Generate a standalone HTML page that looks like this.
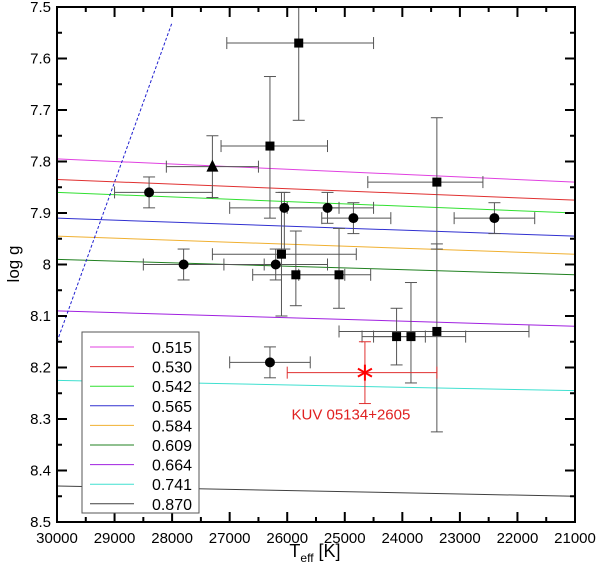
<!DOCTYPE html>
<html><head><meta charset="utf-8"><style>
body{margin:0;background:#fff}
svg{display:block;font-family:"Liberation Sans",sans-serif}
</style></head><body>
<svg id="chart" width="600" height="575" viewBox="0 0 600 575" xmlns="http://www.w3.org/2000/svg">
<g id="tracks"></g>
<g id="errs"></g>
<g id="marks"></g>
<g id="axes"></g>
<g id="legend"></g>
<text x="315" y="557" font-size="18" text-anchor="middle">T<tspan font-size="12" dy="5">eff</tspan><tspan dy="-5"> [K]</tspan></text>
<text transform="translate(19,264) rotate(-90)" font-size="17" text-anchor="middle">log g</text>
</svg>
<script>
const masses=["0.515","0.530","0.542","0.565","0.584","0.609","0.664","0.741","0.870"];
const trackColors=["#e040e0","#e03030","#30e030","#3030d0","#f0b030","#208020","#a020e0","#40e0d0","#404040"];
const trackStart=[7.795,7.835,7.86,7.91,7.945,7.99,8.09,8.225,8.43];
const trackEnd=[7.84,7.875,7.9,7.945,7.98,8.02,8.12,8.245,8.45];
const sqT=[25800,26300,23400,26100,25850,25100,24100,23850,23400];
const sqG=[7.57,7.77,7.84,7.98,8.02,8.02,8.14,8.14,8.13];
const sqTlo=[27050,27150,24600,27300,26600,25800,24700,24500,25100];
const sqThi=[24500,25300,22600,24800,25000,24550,23600,22900,21800];
const sqGlo=[7.50,7.635,7.715,7.86,7.935,7.93,8.085,8.035,7.96];
const sqGhi=[7.72,7.91,7.97,8.10,8.08,8.085,8.195,8.23,8.325];
const ciT=[28400,27800,26050,25300,24850,22400,26200,26300];
const ciG=[7.86,8.00,7.89,7.89,7.91,7.91,8.00,8.19];
const ciTlo=[29000,28500,27000,26000,25400,23100,27100,27000];
const ciThi=[27300,26400,25100,24500,24200,21700,25300,25600];
const ciGlo=[7.83,7.97,7.86,7.86,7.88,7.88,7.97,8.16];
const ciGhi=[7.89,8.03,7.97,7.92,7.94,7.94,8.03,8.22];
const triT=[27300],triG=[7.81],triTlo=[28100],triThi=[26500],triGlo=[7.75],triGhi=[7.87];
const starT=[24650],starG=[8.21],starTlo=[26000],starThi=[23400],starGlo=[8.15],starGhi=[8.27];
const dashT=[30000,28000],dashG=[8.15,7.53];
const xTicks=[30000,29000,28000,27000,26000,25000,24000,23000,22000,21000];
const yTicks=["7.5","7.6","7.7","7.8","7.9","8","8.1","8.2","8.3","8.4","8.5"];
const X0=57,X1=575,Y0=7,Y1=522;
const sx=t=>X0+(30000-t)/9000*(X1-X0);
const sy=g=>Y0+(g-7.5)/1.0*(Y1-Y0);
const NS="http://www.w3.org/2000/svg";
function mk(p,tag,at){const e=document.createElementNS(NS,tag);for(const k in at)e.setAttribute(k,at[k]);p.appendChild(e);return e;}
const tracks=document.getElementById('tracks');
for(let i=0;i<masses.length;i++){
 const l=mk(tracks,'line',{x1:sx(30000),y1:sy(trackStart[i]),x2:sx(21000),y2:sy(trackEnd[i]),stroke:trackColors[i],'stroke-width':1});
 
 
}
const dl=mk(tracks,'line',{x1:sx(dashT[0]),y1:sy(dashG[0]),x2:sx(dashT[1]),y2:sy(dashG[1]),stroke:'#2020d0','stroke-width':1,'stroke-dasharray':'3,2'});


const errs=document.getElementById('errs'),marks=document.getElementById('marks');
function eb(t,g,tlo,thi,glo,ghi,col,name){
 const g2=mk(errs,'g',{stroke:col,'stroke-width':1,fill:'none'});
 
 
 mk(g2,'line',{x1:sx(tlo),y1:sy(g),x2:sx(thi),y2:sy(g)});
 mk(g2,'line',{x1:sx(tlo),y1:sy(g)-6,x2:sx(tlo),y2:sy(g)+6});
 mk(g2,'line',{x1:sx(thi),y1:sy(g)-6,x2:sx(thi),y2:sy(g)+6});
 mk(g2,'line',{x1:sx(t),y1:Math.max(Y0,sy(glo)),x2:sx(t),y2:sy(ghi)});
 if(glo>7.5)mk(g2,'line',{x1:sx(t)-6,y1:sy(glo),x2:sx(t)+6,y2:sy(glo)});
 mk(g2,'line',{x1:sx(t)-6,y1:sy(ghi),x2:sx(t)+6,y2:sy(ghi)});
}
for(let i=0;i<sqT.length;i++){eb(sqT[i],sqG[i],sqTlo[i],sqThi[i],sqGlo[i],sqGhi[i],'#555','square-'+i);
 const r=mk(marks,'rect',{x:sx(sqT[i])-4.5,y:sy(sqG[i])-4.5,width:9,height:9,fill:'#000'});
 
 }
for(let i=0;i<ciT.length;i++){eb(ciT[i],ciG[i],ciTlo[i],ciThi[i],ciGlo[i],ciGhi[i],'#555','circle-'+i);
 const c=mk(marks,'circle',{cx:sx(ciT[i]),cy:sy(ciG[i]),r:5,fill:'#000'});
 
 }
for(let i=0;i<triT.length;i++){eb(triT[i],triG[i],triTlo[i],triThi[i],triGlo[i],triGhi[i],'#555','triangle');
 const x=sx(triT[i]),y=sy(triG[i]);
 const p=mk(marks,'polygon',{points:`${x},${y-7} ${x-6},${y+5} ${x+6},${y+5}`,fill:'#000'});
 
 }
for(let i=0;i<starT.length;i++){eb(starT[i],starG[i],starTlo[i],starThi[i],starGlo[i],starGhi[i],'#e03030','kuv-star');
 const x=sx(starT[i]),y=sy(starG[i]);
 const s=mk(marks,'g',{stroke:'#f00','stroke-width':2});
 
 
 mk(s,'line',{x1:x,y1:y-8,x2:x,y2:y+8});
 mk(s,'line',{x1:x-7,y1:y-4,x2:x+7,y2:y+4});
 mk(s,'line',{x1:x-7,y1:y+4,x2:x+7,y2:y-4});
 const tx=mk(marks,'text',{x:x-14,y:y+47,'font-size':15,fill:'#e02020','text-anchor':'middle'});
 tx.textContent='KUV 05134+2605';
 
 }
const ax=document.getElementById('axes');
mk(ax,'rect',{x:X0,y:Y0,width:X1-X0,height:Y1-Y0,fill:'none',stroke:'#000','stroke-width':2});
for(let t=30000;t>=21000;t-=500){const x=sx(t),L=(t%1000===0)?10:5;
 mk(ax,'line',{x1:x,y1:Y1,x2:x,y2:Y1-L,stroke:'#000','stroke-width':2});
 mk(ax,'line',{x1:x,y1:Y0,x2:x,y2:Y0+L,stroke:'#000','stroke-width':2});}
for(let i=0;i<=20;i++){const y=Y0+i*(Y1-Y0)/20,L=i%2===0?10:5;
 mk(ax,'line',{x1:X0,y1:y,x2:X0+L,y2:y,stroke:'#000','stroke-width':2});
 mk(ax,'line',{x1:X1,y1:y,x2:X1-L,y2:y,stroke:'#000','stroke-width':2});}
xTicks.forEach(t=>{const e=mk(ax,'text',{x:sx(t),y:Y1+21,'font-size':15,'text-anchor':'middle'});e.textContent=t;
 
 });
yTicks.forEach(v=>{const e=mk(ax,'text',{x:X0-6,y:sy(parseFloat(v))+5,'font-size':15,'text-anchor':'end'});e.textContent=v;
 
 });
const lg=document.getElementById('legend');
mk(lg,'rect',{x:82,y:332,width:117,height:181,fill:'#fff',stroke:'#555','stroke-width':1});
masses.forEach((m,i)=>{const y=348+i*19.6;
 const e=mk(lg,'g',{});
 
 
 mk(e,'line',{x1:90,y1:y-1,x2:134,y2:y-1,stroke:trackColors[i],'stroke-width':1});
 const t=mk(e,'text',{x:192,y:y+5,'font-size':16,'text-anchor':'end'});t.textContent=m;});
</script>
</body></html>
